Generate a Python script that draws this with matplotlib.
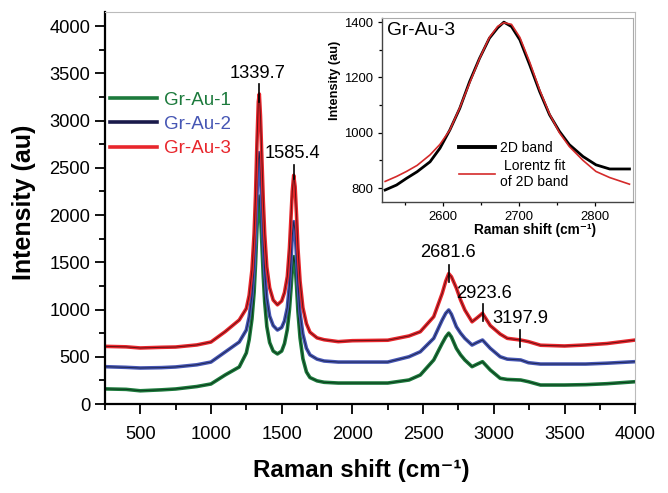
import numpy as np
import matplotlib.pyplot as plt
from matplotlib.lines import Line2D

plt.rcParams['font.family'] = ['Liberation Sans', 'DejaVu Sans']

# Raman spectra
shift = [250, 400, 500, 650, 750, 900, 1000, 1100, 1200, 1250, 1270, 1290, 1305, 1315,
         1325, 1335, 1342, 1350, 1360, 1370, 1380, 1395, 1415, 1440, 1470, 1500, 1520,
         1540, 1555, 1565, 1575, 1585, 1595, 1605, 1615, 1630, 1650, 1675, 1700, 1750,
         1800, 1900, 2000, 2250, 2400, 2480, 2575, 2635, 2660, 2681, 2700, 2735,
         2765, 2795, 2846, 2880, 2920, 2975, 3045, 3095, 3190, 3245, 3330, 3500, 3650,
         3800, 4000]
gr_au_3 = [610, 605, 593, 600, 603, 625, 656, 765, 889, 1010, 1150, 1420, 1800, 2200,
           2750, 3200, 3280, 3050, 2600, 2150, 1800, 1450, 1230, 1100, 1050, 1090, 1180,
           1350, 1650, 1950, 2250, 2420, 2300, 2000, 1650, 1300, 1020, 850, 760, 700,
           680, 660, 670, 675, 720, 765, 924, 1171, 1300, 1380, 1347, 1227,
           1100, 995, 870, 910, 960, 830, 740, 695, 677, 660, 622, 614, 625,
           640, 677]
gr_au_2 = [395, 388, 381, 385, 392, 415, 444, 550, 656, 783, 920, 1150, 1450, 1780,
           2200, 2580, 2660, 2450, 2080, 1700, 1400, 1120, 930, 830, 783, 810, 880,
           1020, 1260, 1500, 1780, 1930, 1830, 1570, 1270, 960, 740, 590, 520, 475,
           455, 444, 444, 444, 500, 553, 695, 889, 960, 995, 950, 818,
           750, 695, 624, 650, 677, 589, 500, 475, 466, 437, 423, 423, 423,
           432, 448]
gr_au_1 = [160, 155, 140, 150, 159, 185, 212, 307, 392, 540, 680, 900, 1180, 1480,
           1850, 2150, 2200, 2020, 1700, 1350, 1080, 820, 650, 560, 530, 560, 640,
           790, 1000, 1200, 1420, 1560, 1480, 1250, 980, 700, 480, 340, 280, 245,
           230, 222, 222, 222, 254, 307, 466, 642, 710, 750, 710, 589,
           520, 466, 395, 420, 448, 360, 272, 260, 254, 236, 201, 201, 205,
           215, 236]

peak_labels = ["1339.7", "1585.4", "2681.6", "2923.6", "3197.9"]

# inset: 2D band of Gr-Au-3 and Lorentz fit
band_x = [2524, 2539, 2552, 2566, 2583, 2596, 2609, 2622, 2635, 2648, 2661, 2672, 2680,
          2690, 2701, 2714, 2727, 2740, 2753, 2766, 2784, 2801, 2819, 2832, 2845]
band_y = [793, 811, 835, 859, 895, 944, 1010, 1088, 1185, 1269, 1342, 1380, 1400,
          1384, 1336, 1245, 1149, 1065, 1005, 957, 914, 884, 869, 869, 869]
fit_y = [824, 842, 860, 882, 920, 958, 1010, 1090, 1180, 1268, 1345, 1385, 1398,
         1392, 1345, 1255, 1155, 1068, 1000, 950, 900, 860, 838, 826, 814]

red = "#e8262c"
blue = "#4656b4"
green = "#1c7a3c"

fig = plt.figure(figsize=(6.68, 4.93), dpi=100)
ax = fig.add_axes([0.157, 0.1805, 0.794, 0.7955])

for y, c in [(gr_au_1, green), (gr_au_2, blue), (gr_au_3, red)]:
    ax.plot(shift, y, color=c, lw=2.6, solid_joinstyle="round")
    ax.plot(shift, y, color="black", lw=0.7, alpha=0.55)

# peak markers: x, line bottom, line top, text x, text y
marks = [(1339.7, 3200, 3390, 1330, 3500),
         (1585.4, 2380, 2530, 1575, 2650),
         (2681.6, 1290, 1470, 2675, 1600),
         (2923.6, 880, 1060, 2933, 1165),
         (3188, 603, 783, 3188, 910)]
for (px, y0, y1, tx, ty), lab in zip(marks, peak_labels):
    ax.plot([px, px], [y0, y1], color="black", lw=1.2, zorder=5)
    ax.text(tx, ty, lab, ha="center", va="center", fontsize=13.2)

ax.set_xlim(250, 4000)
ax.set_ylim(0, 4150)
ax.set_xticks(np.arange(500, 4001, 500))
ax.set_xticks(np.arange(250, 4001, 250), minor=True)
ax.set_yticks(np.arange(0, 4001, 500))
ax.set_yticks(np.arange(0, 4001, 250), minor=True)
ax.tick_params(which="both", direction="out", labelsize=13.2, width=1.3)
ax.tick_params(which="major", length=7)
ax.tick_params(which="minor", length=4)
ax.tick_params(axis="x", pad=9)
for s in ["left", "bottom"]:
    ax.spines[s].set_linewidth(1.6)
for s in ["top", "right"]:
    ax.spines[s].set_color("#bbbbbb")
    ax.spines[s].set_linewidth(0.8)
ax.set_xlabel("Raman shift (cm⁻¹)", fontsize=17.4, fontweight="bold", labelpad=11)
ax.set_ylabel("Intensity (au)", fontsize=18, fontweight="bold", labelpad=10)
ax.xaxis.label.set_x(0.484)
ax.yaxis.label.set_y(0.515)

handles = [Line2D([], [], color=green, lw=2.6),
           Line2D([], [], color="#1a1a4a", lw=2.6),
           Line2D([], [], color=red, lw=2.6)]
ax.legend(handles, ["Gr-Au-1", "Gr-Au-2", "Gr-Au-3"], loc="upper left",
          bbox_to_anchor=(-0.022, 0.84), frameon=False, fontsize=13.5,
          labelcolor=[green, blue, red], handlelength=2.5, labelspacing=0.39,
          handletextpad=0.4)

# inset
ins = fig.add_axes([0.572, 0.5905, 0.376, 0.373])
ins.plot(band_x, band_y, color="black", lw=2.0)
ins.plot(band_x, fit_y, color="#d42a2a", lw=1.2)
ins.set_xlim(2520, 2850)
ins.set_ylim(750, 1415)
ins.set_xticks([2600, 2700, 2800])
ins.set_xticks([2550, 2650, 2750], minor=True)
ins.set_yticks([800, 1000, 1200, 1400])
ins.set_yticks([900, 1100, 1300], minor=True)
ins.tick_params(which="both", direction="out", labelsize=9.4, width=0.9, length=3)
ins.tick_params(which="minor", length=2)
for s in ["left", "bottom"]:
    ins.spines[s].set_color("#444444")
    ins.spines[s].set_linewidth(1.0)
for s in ["top", "right"]:
    ins.spines[s].set_color("#aaaaaa")
    ins.spines[s].set_linewidth(0.8)
ins.set_xlabel("Raman shift (cm⁻¹)", fontsize=9.8, fontweight="bold", labelpad=0)
ins.set_ylabel("Intensity (au)", fontsize=9.2, fontweight="bold", labelpad=2)
ins.xaxis.label.set_x(0.61)
ins.yaxis.label.set_y(0.66)
ins.text(0.02, 0.93, "Gr-Au-3", transform=ins.transAxes, fontsize=13.8,
         ha="left", va="center")
leg = ins.legend([Line2D([], [], color="black", lw=2.8), Line2D([], [], color="#d42a2a", lw=1.2)],
                 ["2D band", "Lorentz fit\nof 2D band"], loc="center left",
                 bbox_to_anchor=(0.255, 0.2), frameon=False, fontsize=10,
                 handlelength=2.6, labelspacing=0.25, handletextpad=0.4)
for t in leg.get_texts():
    t.set_multialignment("center")

fig.savefig("out.png", dpi=100)
